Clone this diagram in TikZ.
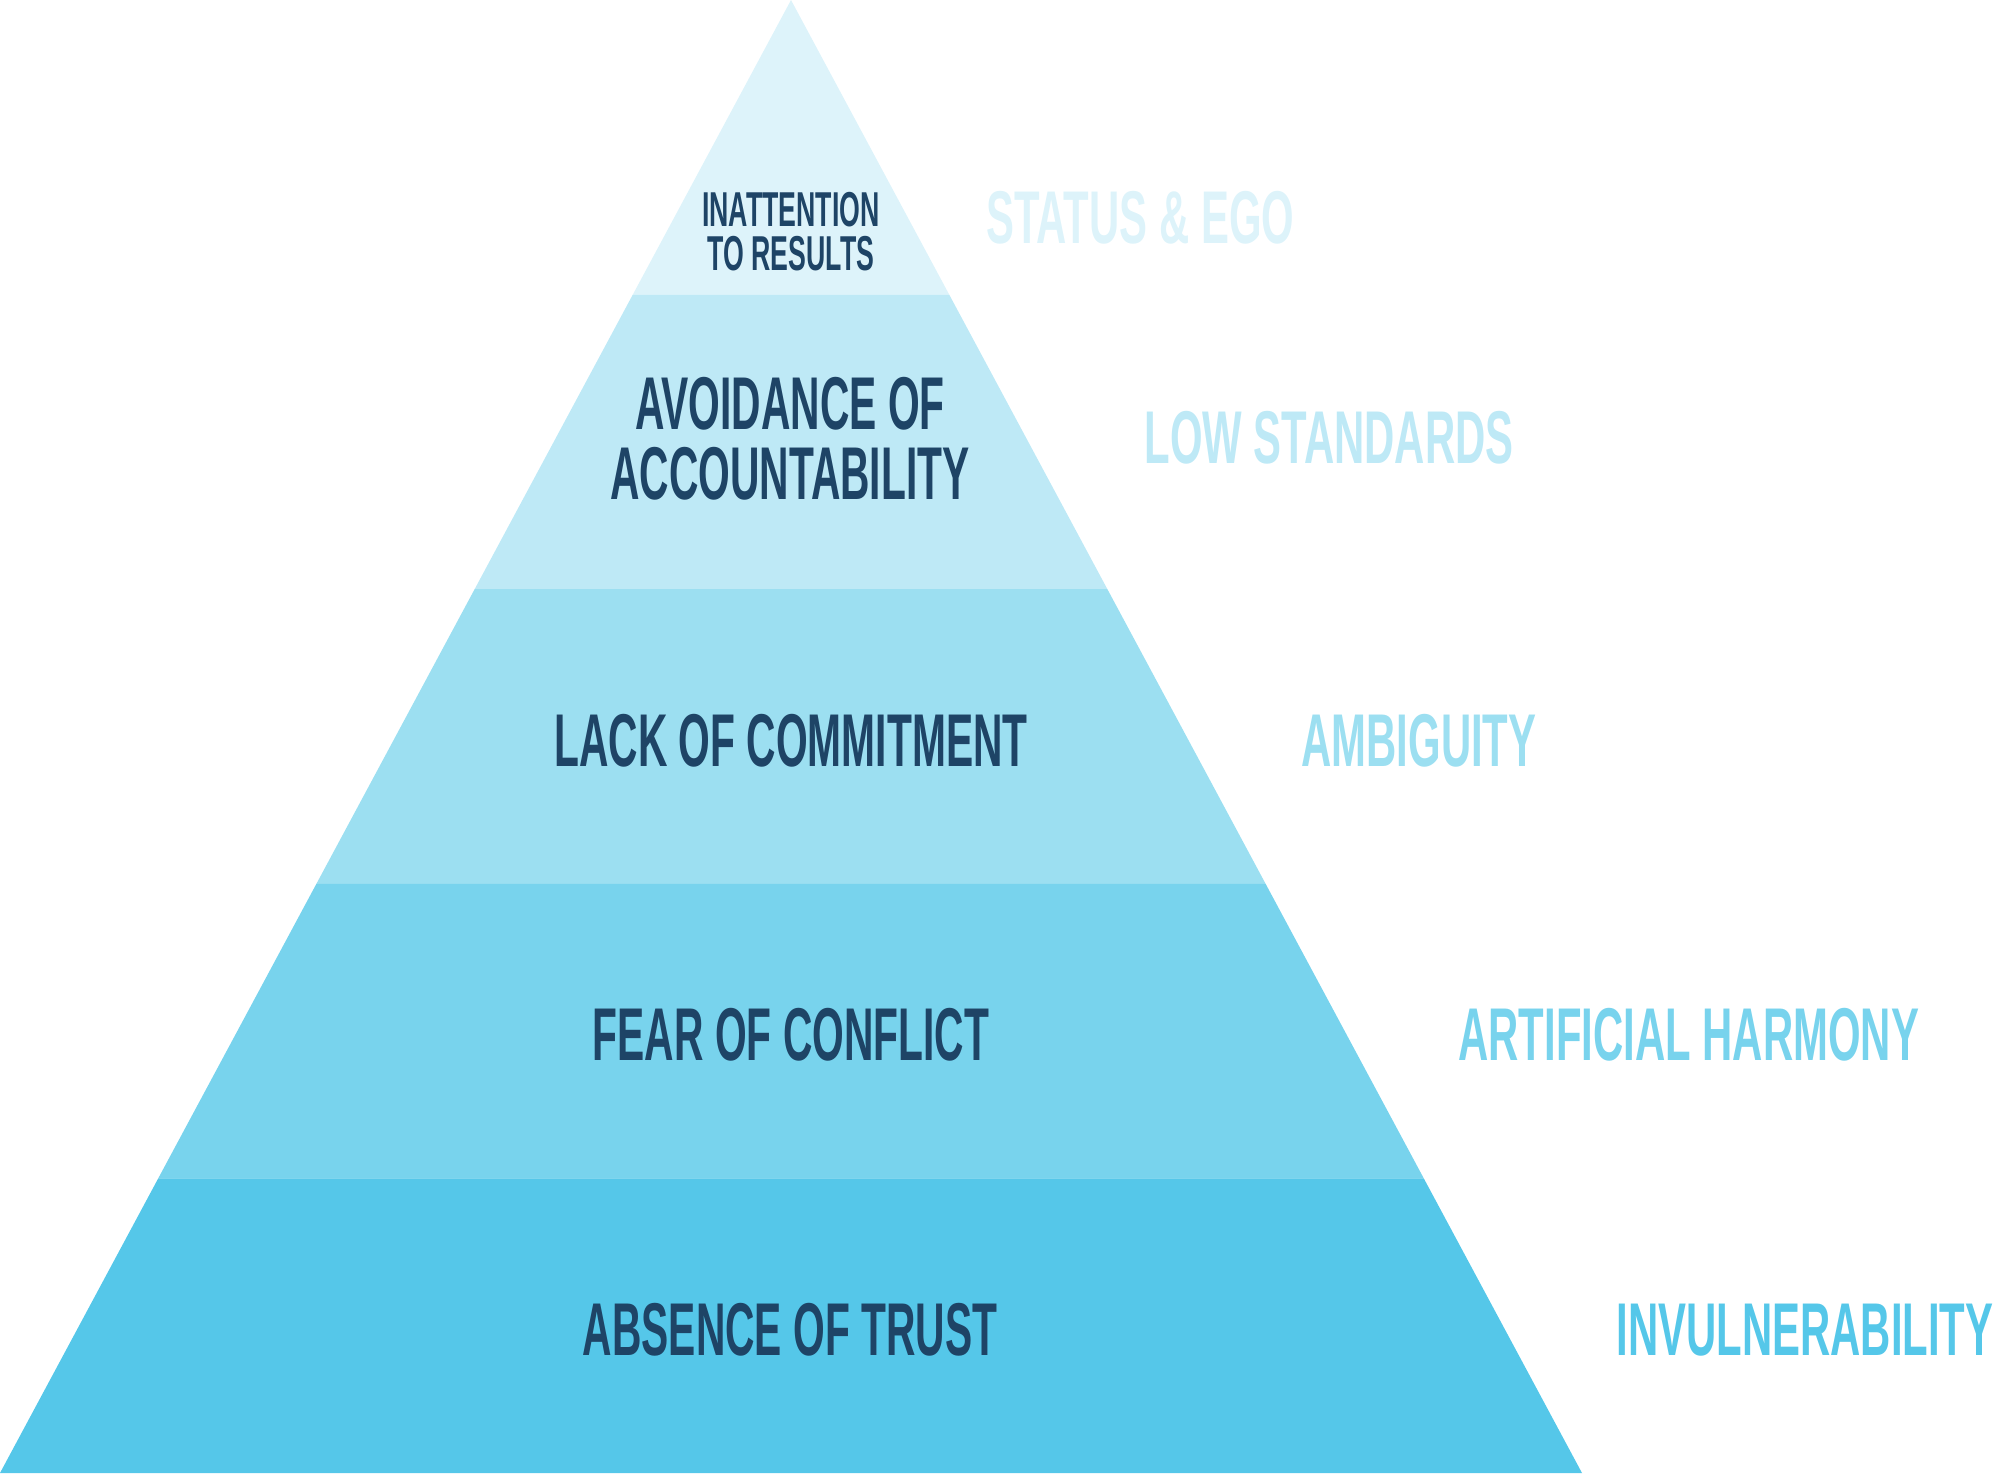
\documentclass[tikz,border=0pt]{standalone}
\usepackage{fontspec}
\setmainfont[FakeStretch=0.545]{Liberation Sans}
\newfontfamily\sidefont[FakeStretch=0.56]{Liberation Sans}
\definecolor{bandA}{HTML}{DDF3FA}
\definecolor{bandB}{HTML}{BEE9F6}
\definecolor{bandC}{HTML}{9CDFF1}
\definecolor{bandD}{HTML}{78D3ED}
\definecolor{bandE}{HTML}{55C7E9}
\definecolor{ink}{HTML}{1E4466}
\begin{document}
\begin{tikzpicture}[x=0.5pt,y=-0.5pt,
  lvl/.style={font=\bfseries\fontsize{37.4}{40}\selectfont, text=ink, inner sep=0pt, anchor=center},
  small/.style={font=\bfseries\fontsize{24.5}{26}\selectfont, text=ink, inner sep=0pt, anchor=center},
  side/.style={font=\sidefont\bfseries\fontsize{37.4}{40}\selectfont, inner sep=0pt, anchor=west}]
\useasboundingbox (0,0) rectangle (2000,1473);
% bands
\fill[bandA] (791,0) -- (949.2,294.6) -- (632.8,294.6) -- cycle;
\fill[bandB] (632.8,294.6) -- (949.2,294.6) -- (1107.4,589.2) -- (474.6,589.2) -- cycle;
\fill[bandC] (474.6,589.2) -- (1107.4,589.2) -- (1265.6,883.8) -- (316.4,883.8) -- cycle;
\fill[bandD] (316.4,883.8) -- (1265.6,883.8) -- (1423.8,1178.4) -- (158.2,1178.4) -- cycle;
\fill[bandE] (158.2,1178.4) -- (1423.8,1178.4) -- (1582,1473) -- (0,1473) -- cycle;
% level texts
\node[small] (l1a) at (791,209.2) {INATTENTION};
\node[small] (l1b) at (791,253.2) {TO RESULTS};
\node[lvl] (l2a) at (790,403.7) {AVOIDANCE OF};
\node[lvl] (l2b) at (790,473.9) {ACCOUNTABILITY};
\node[lvl] (l3) at (791,741) {LACK OF COMMITMENT};
\node[lvl] (l4) at (791,1035) {FEAR OF CONFLICT};
\node[lvl] (l5) at (790,1329.7) {ABSENCE OF TRUST};
% side labels
\node[side, text=bandA] (s1) at (986,218) {STATUS \& EGO};
\node[side, text=bandB] (s2) at (1144,437.5) {LOW STANDARDS};
\node[side, text=bandC] (s3) at (1301,741) {AMBIGUITY};
\node[side, text=bandD] (s4) at (1458,1035) {ARTIFICIAL HARMONY};
\node[side, text=bandE] (s5) at (1616,1329.7) {INVULNERABILITY};
\end{tikzpicture}
\end{document}
